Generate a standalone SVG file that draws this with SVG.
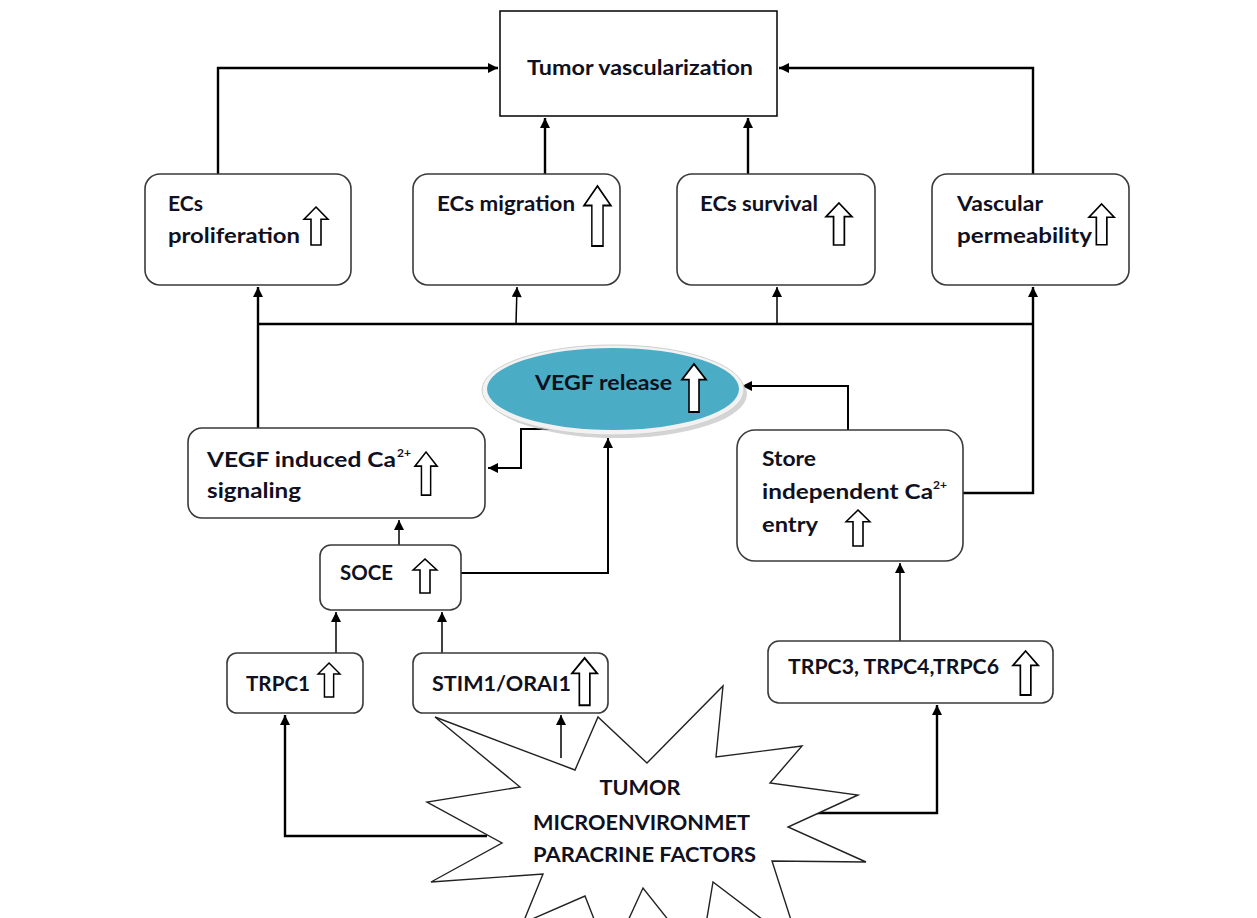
<svg xmlns="http://www.w3.org/2000/svg" xmlns:xlink="http://www.w3.org/1999/xlink" width="1257" height="918" viewBox="0 0 1257 918">
<style>
.bg{fill:#fff}
.box{fill:#fff;stroke:#3a3a3a;stroke-width:1.6}
.t{font-family:Lato,"Liberation Sans",sans-serif;font-weight:bold;font-size:20px;fill:#101020}
.sup{font-family:Lato,"Liberation Sans",sans-serif;font-weight:bold;font-size:12px;fill:#101020}
.c{fill:none;stroke:#000;stroke-width:2.4;marker-end:url(#ah)}
.cn{fill:none;stroke:#000;stroke-width:1.5;marker-end:url(#ah)}
.l{fill:none;stroke:#000;stroke-width:2.4}
.ua{fill:#fff;stroke:#000;stroke-width:1.6}
.star{fill:#fff;stroke:#222;stroke-width:1.4;stroke-linejoin:miter}
</style>
<defs>
<marker id="ah" viewBox="0 0 10 10" refX="10" refY="5" markerWidth="11" markerHeight="10" markerUnits="userSpaceOnUse" orient="auto">
<path d="M0,0 L10,5 L0,10 z" fill="#000"/>
</marker>
<path id="up" d="M12,0 L24,13 L17,13 L17,40 L7,40 L7,13 L0,13 z"/>
</defs>
<rect class="bg" x="0" y="0" width="1257" height="918"/>

<g id="connectors">
<path class="c" d="M218,174 V68 H498"/>
<path class="c" d="M1033,174 V68 H779"/>
<path class="c" d="M545,174 V118"/>
<path class="c" d="M748,174 V118"/>
<path class="l" d="M258,324 H1033"/>
<path class="c" d="M258,428 V287"/>
<path class="cn" d="M516,324 L517,287"/>
<path class="cn" d="M777,324 V287"/>
<path class="c" d="M963,493 H1033 V287"/>
<path class="c" style="stroke-width:2" d="M558,429 H521 V468 H488"/>
<path class="c" style="stroke-width:2" d="M461,573 H608 V438"/>
<path class="cn" d="M399,545 V520"/>
<path class="cn" d="M336,653 V612"/>
<path class="cn" d="M442,653 V612"/>
<path class="c" d="M487,836 H285 V715"/>
<path class="cn" d="M561,758 V715"/>
<path class="c" d="M815,813 H937 V705"/>
<path class="cn" d="M900,641 V563"/>
<path class="c" style="stroke-width:2" d="M848,430 V386 H742"/>
</g>

<g id="tumor-microenvironment">
<polygon class="star" points="435,717 575,770 598,717 647,763 723,686 716,757 802,746 770,783 858,795 788,827 866,862 772,861 800,948 713,882 700,960 643,888 610,960 585,896 523,923 543,874 431,882 502,843 427,802 520,787"/>
<text class="t" x="640" y="795" text-anchor="middle" textLength="81" lengthAdjust="spacingAndGlyphs">TUMOR</text>
<text class="t" x="533" y="830" textLength="217" lengthAdjust="spacingAndGlyphs">MICROENVIRONMET</text>
<text class="t" x="533" y="862" textLength="223" lengthAdjust="spacingAndGlyphs">PARACRINE FACTORS</text>
</g>

<g id="tumor-vascularization">
<rect x="500" y="11" width="277" height="105" fill="#fff" stroke="#000" stroke-width="1.5"/>
<text class="t" x="527" y="75" textLength="226" lengthAdjust="spacingAndGlyphs">Tumor vascularization</text>
</g>

<g id="ecs-proliferation">
<rect class="box" x="145" y="174" width="206" height="111" rx="15"/>
<text class="t" x="168" y="211" textLength="35" lengthAdjust="spacingAndGlyphs">ECs</text>
<text class="t" x="168" y="243" textLength="132" lengthAdjust="spacingAndGlyphs">proliferation</text>
<use href="#up" class="ua" transform="translate(304,207) scale(1,0.95)"/>
</g>

<g id="ecs-migration">
<rect class="box" x="413" y="174" width="207" height="111" rx="15"/>
<text class="t" x="437" y="211" textLength="138" lengthAdjust="spacingAndGlyphs">ECs migration</text>
<use href="#up" class="ua" transform="translate(584,186) scale(1.12,1.5)" style="stroke-width:1.3"/>
</g>

<g id="ecs-survival">
<rect class="box" x="677" y="174" width="198" height="111" rx="15"/>
<text class="t" x="700" y="211" textLength="118" lengthAdjust="spacingAndGlyphs">ECs survival</text>
<use href="#up" class="ua" transform="translate(826,203) scale(1.08,1.05)"/>
</g>

<g id="vascular-permeability">
<rect class="box" x="932" y="174" width="197" height="111" rx="15"/>
<text class="t" x="957" y="211" textLength="86" lengthAdjust="spacingAndGlyphs">Vascular</text>
<text class="t" x="957" y="243" textLength="135" lengthAdjust="spacingAndGlyphs">permeability</text>
<use href="#up" class="ua" transform="translate(1089,204) scale(1.05,1.02)"/>
</g>

<g id="vegf-release">
<ellipse cx="617" cy="394" rx="130" ry="44" fill="#b8b8b8" opacity="0.6"/>
<ellipse cx="613" cy="390" rx="131" ry="45" fill="#f2f2f2" stroke="#d0d0d0" stroke-width="1"/>
<ellipse cx="613" cy="389" rx="126" ry="41" fill="#4bacc6"/>
<text class="t" x="535" y="390" textLength="137" lengthAdjust="spacingAndGlyphs">VEGF release</text>
<use href="#up" class="ua" transform="translate(682,364) scale(1,1.2)"/>
</g>

<g id="vegf-induced-ca-signaling">
<rect class="box" x="188" y="428" width="297" height="90" rx="14"/>
<text class="t" x="207" y="467" textLength="189" lengthAdjust="spacingAndGlyphs">VEGF induced Ca</text>
<text class="sup" x="397" y="457">2+</text>
<text class="t" x="207" y="498" textLength="94" lengthAdjust="spacingAndGlyphs">signaling</text>
<use href="#up" class="ua" transform="translate(415,452) scale(0.92,1.08)"/>
</g>

<g id="store-independent-ca-entry">
<rect class="box" x="737" y="430" width="226" height="131" rx="18"/>
<text class="t" x="762" y="466" textLength="54" lengthAdjust="spacingAndGlyphs">Store</text>
<text class="t" x="762" y="499" textLength="171" lengthAdjust="spacingAndGlyphs">independent Ca</text>
<text class="sup" x="933" y="489">2+</text>
<text class="t" x="762" y="532" textLength="56" lengthAdjust="spacingAndGlyphs">entry</text>
<use href="#up" class="ua" transform="translate(846,510) scale(1,0.9)"/>
</g>

<g id="soce">
<rect class="box" x="320" y="545" width="141" height="65" rx="11"/>
<text class="t" x="340" y="580" textLength="53" lengthAdjust="spacingAndGlyphs">SOCE</text>
<use href="#up" class="ua" transform="translate(413,559) scale(1,0.85)"/>
</g>

<g id="trpc1">
<rect class="box" x="227" y="653" width="136" height="60" rx="10"/>
<text class="t" x="246" y="691" textLength="64" lengthAdjust="spacingAndGlyphs">TRPC1</text>
<use href="#up" class="ua" transform="translate(318,663) scale(0.92,0.85)"/>
</g>

<g id="stim1-orai1">
<rect class="box" x="413" y="653" width="195" height="60" rx="10"/>
<text class="t" x="432" y="691" textLength="139" lengthAdjust="spacingAndGlyphs">STIM1/ORAI1</text>
<use href="#up" class="ua" transform="translate(572,658) scale(1.05,1.18)"/>
</g>

<g id="trpc3-trpc4-trpc6">
<rect class="box" x="768" y="641" width="285" height="62" rx="11"/>
<text class="t" x="788" y="674" textLength="211" lengthAdjust="spacingAndGlyphs">TRPC3, TRPC4,TRPC6</text>
<use href="#up" class="ua" transform="translate(1013,651) scale(1.05,1.1)"/>
</g>
</svg>
